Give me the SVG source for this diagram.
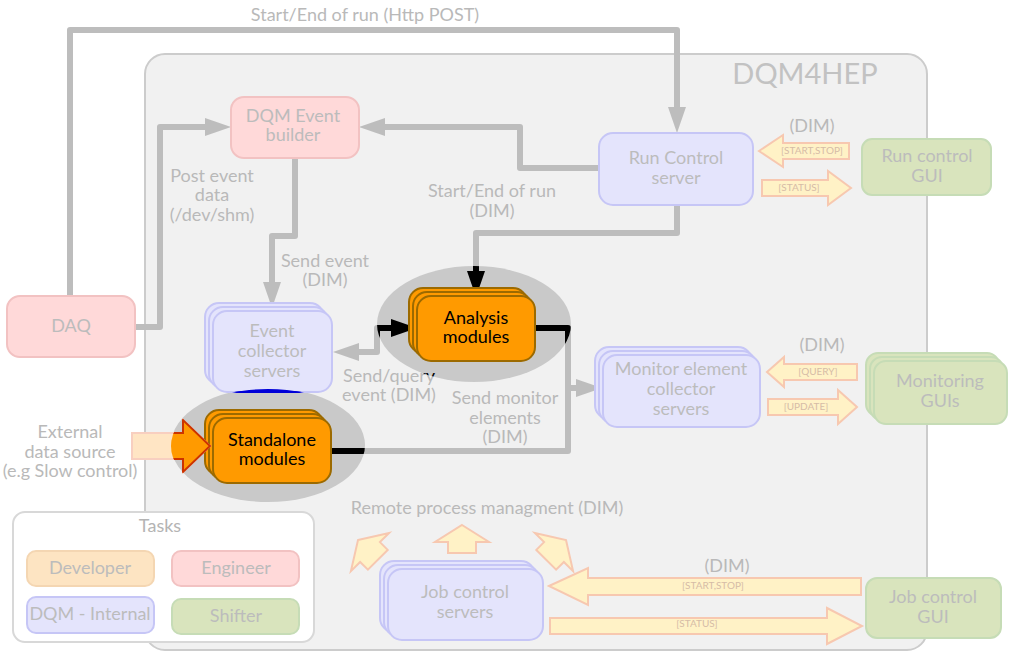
<svg xmlns="http://www.w3.org/2000/svg" width="1022" height="657" viewBox="0 0 1022 657">
<style>
text{font-family:Lato,"Open Sans","Liberation Sans",sans-serif;text-anchor:middle}
.lbl{font-size:18px;fill:#b9b9b9}
.nt{font-size:18px;fill:#bcbcbc}
.bt{font-size:18px;fill:#000}
.sm{font-size:10px;fill:#d6bca6}
.con{fill:none;stroke:#bdbdbd;stroke-width:6;stroke-linejoin:round}
.conb{fill:none;stroke:#000;stroke-width:6;stroke-linejoin:round}
.pink{fill:#ffd9d9;stroke:#f2c2c2;stroke-width:2}
.blue{fill:#e4e4fc;stroke:#c6c6f6;stroke-width:2}
.green{fill:#d9e4bd;stroke:#c6dcb6;stroke-width:2}
.orange{fill:#ff9a00;stroke:#9c6a00;stroke-width:2}
.peach{fill:#fde4c2;stroke:#f4d6b2;stroke-width:2}
.blk{fill:#fff2c6;stroke:#f7c8b0;stroke-width:2}
.ell{fill:#c9c9c9}
</style>
<defs>
<marker id="ag" markerUnits="userSpaceOnUse" markerWidth="28" markerHeight="20" viewBox="0 -10 28 20" refX="0" refY="0" orient="auto-start-reverse"><path d="M0,-9 L26,0 L0,9 z" fill="#bdbdbd"/></marker>
<marker id="ab" markerUnits="userSpaceOnUse" markerWidth="28" markerHeight="20" viewBox="0 -10 28 20" refX="0" refY="0" orient="auto-start-reverse"><path d="M0,-9 L26,0 L0,9 z" fill="#000"/></marker>
<clipPath id="inEll">
<ellipse cx="474" cy="324" rx="97" ry="58"/>
<ellipse cx="268" cy="445" rx="97" ry="57"/>
</clipPath>
<clipPath id="inStd"><ellipse cx="268" cy="446" rx="97" ry="57"/></clipPath>
<clipPath id="inAna"><ellipse cx="474" cy="324" rx="97" ry="58"/></clipPath>
<path id="upArrow" d="M0,0 L27,17 L14,17 L14,28 L-14,28 L-14,17 L-27,17 z"/>
</defs>

<g id="container">
<rect x="145" y="54" width="782" height="596" rx="20" fill="#f1f1f1" stroke="#cccccc" stroke-width="2"/>
<text x="805" y="84" style="font-size:29px;fill:#c2c2c2">DQM4HEP</text>
</g>

<g id="highlights">
<ellipse class="ell" cx="474" cy="324" rx="97" ry="58"/>
<ellipse class="ell" cx="268" cy="445" rx="97" ry="57"/>
</g>

<g id="connectors">
<path class="con" d="M70,296 L70,30 L677,30 L677,107" marker-end="url(#ag)"/>
<path class="con" d="M135,327 L160,327 L160,127 L205,127" marker-end="url(#ag)"/>
<path class="con" d="M599,168 L520,168 L520,127 L385,127" marker-end="url(#ag)"/>
<path class="con" d="M295,158 L295,236 L272,236 L272,282" marker-end="url(#ag)"/>
<path class="con" d="M677,205 L677,233 L476,233 L476,271" marker-end="url(#ag)"/>
<path class="con" d="M359,352 L377,352 L377,328 L391,328" marker-start="url(#ag)" marker-end="url(#ag)"/>
<path class="con" d="M331,451 L568,451 L568,328 L535,328"/>
<path class="con" d="M568,388 L576,388" marker-end="url(#ag)"/>
<g clip-path="url(#inEll)">
<path class="conb" d="M677,205 L677,233 L476,233 L476,271" marker-end="url(#ab)"/>
<path class="conb" d="M359,352 L377,352 L377,328 L391,328" marker-end="url(#ab)"/>
<path class="conb" d="M331,451 L568,451 L568,328 L535,328"/>
</g>
</g>

<g class="lbl">
<text x="365" y="21">Start/End of run (Http POST)</text>
<text x="212" y="182">Post event</text>
<text x="212" y="201">data</text>
<text x="212" y="221">(/dev/shm)</text>
<text x="492" y="197">Start/End of run</text>
<text x="492" y="217">(DIM)</text>
<text x="325" y="267">Send event</text>
<text x="325" y="286">(DIM)</text>
<text x="389" y="382">Send/query</text>
<text x="389" y="401">event (DIM)</text>
<text x="505" y="404">Send monitor</text>
<text x="505" y="424">elements</text>
<text x="505" y="443">(DIM)</text>
<text x="70" y="438">External</text>
<text x="70" y="458">data source</text>
<text x="70" y="477">(e.g Slow control)</text>
<text x="487" y="514">Remote process managment (DIM)</text>
<text x="812" y="132">(DIM)</text>
<text x="822" y="351">(DIM)</text>
<text x="727" y="572">(DIM)</text>
</g>
<g clip-path="url(#inAna)"><text x="389" y="382" style="font-size:18px;fill:#000">Send/query</text></g>

<g id="daq">
<rect class="pink" x="7" y="296" width="128" height="61" rx="13"/>
<text class="nt" x="71" y="332">DAQ</text>
</g>
<g id="event-builder">
<rect class="pink" x="231" y="97" width="128" height="61" rx="13"/>
<text class="nt" x="293" y="122">DQM Event</text>
<text class="nt" x="293" y="141">builder</text>
</g>
<g id="run-control-server">
<rect class="blue" x="599" y="133" width="154" height="72" rx="14"/>
<text class="nt" x="676" y="164">Run Control</text>
<text class="nt" x="676" y="184">server</text>
</g>
<g id="run-control-gui">
<rect class="green" x="862" y="139" width="129" height="56" rx="10"/>
<text class="nt" x="927" y="162">Run control</text>
<text class="nt" x="927" y="182">GUI</text>
</g>
<g id="event-collector">
<rect class="blue" x="205" y="303" width="119" height="81" rx="14"/>
<rect class="blue" x="209" y="307" width="119" height="81" rx="14"/>
<rect class="blue" x="213" y="311" width="119" height="81" rx="14"/>
<g clip-path="url(#inStd)"><rect x="213" y="311" width="119" height="81" rx="14" fill="#0000d8" stroke="#0000d8" stroke-width="2"/></g>
<text class="nt" x="272" y="337">Event</text>
<text class="nt" x="272" y="357">collector</text>
<text class="nt" x="272" y="377">servers</text>
</g>
<g id="analysis-modules">
<rect class="orange" x="409" y="288" width="118" height="65" rx="14"/>
<rect class="orange" x="413" y="292" width="118" height="65" rx="14"/>
<rect class="orange" x="417" y="296" width="118" height="65" rx="14"/>
<text class="bt" x="476" y="324">Analysis</text>
<text class="bt" x="476" y="343">modules</text>
</g>
<g id="standalone-modules">
<rect class="orange" x="205" y="410" width="118" height="65" rx="14"/>
<rect class="orange" x="209" y="414" width="118" height="65" rx="14"/>
<rect class="orange" x="213" y="418" width="118" height="65" rx="14"/>
<text class="bt" x="272" y="446">Standalone</text>
<text class="bt" x="272" y="465">modules</text>
</g>
<g id="external-source">
<path d="M132,433 L183,433 L183,420 L210,446 L183,472 L183,459 L132,459 z" fill="#ffe5c4" stroke="#f8cfc0" stroke-width="2"/>
<g clip-path="url(#inStd)"><path d="M132,433 L183,433 L183,420 L210,446 L183,472 L183,459 L132,459 z" fill="#ff9a00" stroke="#cc3300" stroke-width="2"/></g>
</g>
<g id="monitor-collector">
<rect class="blue" x="595" y="347" width="157" height="72" rx="14"/>
<rect class="blue" x="599" y="351" width="157" height="72" rx="14"/>
<rect class="blue" x="603" y="355" width="157" height="72" rx="14"/>
<text class="nt" x="681" y="375">Monitor element</text>
<text class="nt" x="681" y="395">collector</text>
<text class="nt" x="681" y="415">servers</text>
</g>
<g id="monitoring-guis">
<rect class="green" x="866" y="353" width="133" height="63" rx="12"/>
<rect class="green" x="870" y="357" width="133" height="63" rx="12"/>
<rect class="green" x="874" y="361" width="133" height="63" rx="12"/>
<text class="nt" x="940" y="387">Monitoring</text>
<text class="nt" x="940" y="407">GUIs</text>
</g>
<g id="job-control-servers">
<rect class="blue" x="380" y="561" width="155" height="71" rx="14"/>
<rect class="blue" x="384" y="565" width="155" height="71" rx="14"/>
<rect class="blue" x="388" y="569" width="155" height="71" rx="14"/>
<text class="nt" x="465" y="598">Job control</text>
<text class="nt" x="465" y="618">servers</text>
</g>
<g id="job-control-gui">
<rect class="green" x="866" y="578" width="135" height="60" rx="11"/>
<text class="nt" x="933" y="603">Job control</text>
<text class="nt" x="933" y="623">GUI</text>
</g>

<g id="block-arrows">
<polygon class="blk" points="759,151 783,135 783,143 849,143 849,159 783,159 783,167"/>
<text class="sm" x="812" y="154">[START,STOP]</text>
<polygon class="blk" points="762,180 828,180 828,171 851,188 828,205 828,196 762,196"/>
<text class="sm" x="799" y="191">[STATUS]</text>
<polygon class="blk" points="767,372 784,357 784,364 857,364 857,380 784,380 784,387"/>
<text class="sm" x="818" y="375">[QUERY]</text>
<polygon class="blk" points="768,399 838,399 838,390 857,407 838,424 838,415 768,415"/>
<text class="sm" x="806" y="410">[UPDATE]</text>
<polygon class="blk" points="549,586 588,568 588,578 861,578 861,595 588,595 588,605"/>
<text class="sm" x="713" y="589">[START,STOP]</text>
<polygon class="blk" points="550,618 827,618 827,608 862,626 827,644 827,634 550,634"/>
<text class="sm" x="697" y="627">[STATUS]</text>
<use href="#upArrow" class="blk" transform="translate(462,525)"/>
<use href="#upArrow" class="blk" transform="translate(358,540) rotate(-45)"/>
<use href="#upArrow" class="blk" transform="translate(566,540) rotate(45)"/>
</g>

<g id="legend">
<rect x="13" y="512" width="301" height="130" rx="12" fill="#ffffff" stroke="#d8d8d8" stroke-width="2"/>
<text x="160" y="532" style="font-size:18px;fill:#b4b4b4">Tasks</text>
<rect class="peach" x="27" y="551" width="127" height="35" rx="9"/>
<text class="nt" x="90" y="574">Developer</text>
<rect class="pink" x="172" y="551" width="127" height="35" rx="9"/>
<text class="nt" x="236" y="574">Engineer</text>
<rect class="blue" x="27" y="597" width="127" height="36" rx="9"/>
<text class="nt" x="90" y="620">DQM - Internal</text>
<rect class="green" x="172" y="599" width="127" height="35" rx="9"/>
<text class="nt" x="236" y="622">Shifter</text>
</g>
</svg>
